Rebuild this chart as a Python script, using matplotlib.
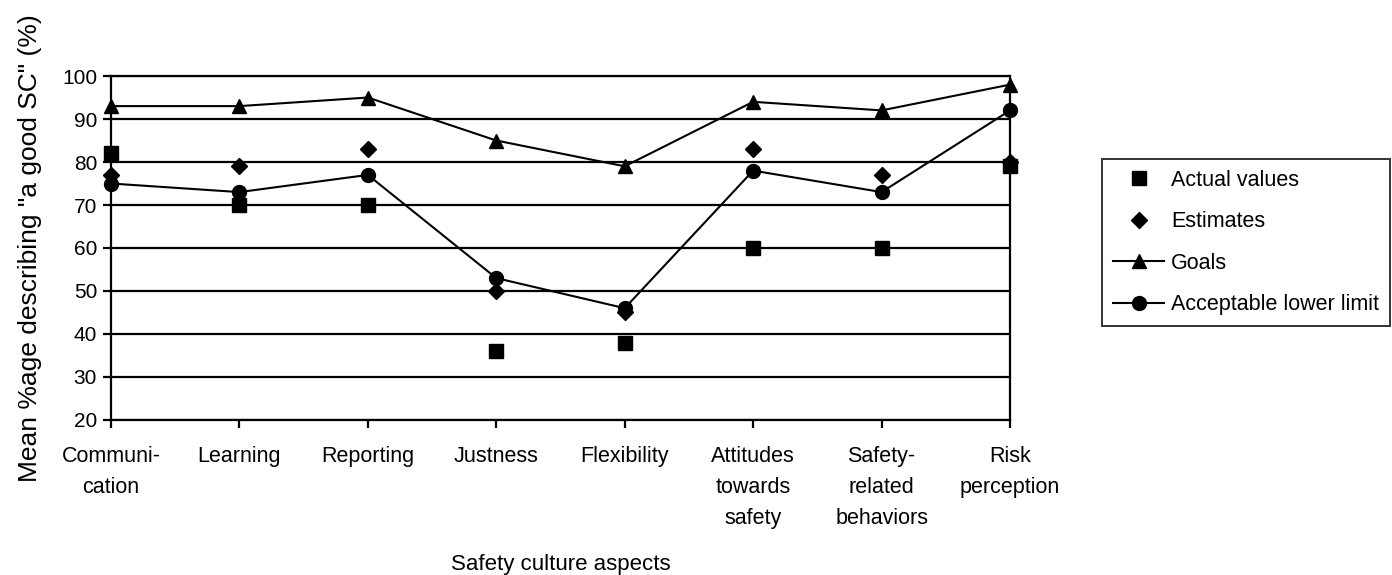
import matplotlib
matplotlib.use('Agg')
import matplotlib.pyplot as plt
from matplotlib.lines import Line2D

plt.rcParams['font.family'] = ['Liberation Sans', 'DejaVu Sans']
plt.rcParams['font.size'] = 15.5

# data
aspects = ['Communi-\ncation', 'Learning', 'Reporting', 'Justness', 'Flexibility',
           'Attitudes\ntowards\nsafety', 'Safety-\nrelated\nbehaviors', 'Risk\nperception']
actual = [82, 70, 70, 36, 38, 60, 60, 79]
estimates = [77, 79, 83, 50, 45, 83, 77, 80]
goals = [93, 93, 95, 85, 79, 94, 92, 98]
lower_limit = [75, 73, 77, 53, 46, 78, 73, 92]

fig = plt.figure(figsize=(13.92, 5.75), dpi=100)
ax = fig.add_axes([0.0797, 0.2696, 0.6459, 0.5982])

x = list(range(len(aspects)))
ax.plot(x, estimates, linestyle='none', marker='D', ms=8, color='black', clip_on=False, zorder=3)
ax.plot(x, actual, linestyle='none', marker='s', ms=10, color='black', clip_on=False, zorder=3)
ax.plot(x, goals, '-', marker='^', ms=10, lw=1.5, color='black', clip_on=False, zorder=4)
ax.plot(x, lower_limit, '-', marker='o', ms=10, lw=1.5, color='black', clip_on=False, zorder=4)

ax.set_xlim(0, len(aspects) - 1)
ax.set_ylim(20, 100)
ax.set_yticks(range(20, 101, 10))
ax.set_yticklabels([str(v) for v in range(20, 101, 10)], fontsize=15)
ax.set_xticks(x)
ax.set_xticklabels(aspects, linespacing=1.6)
ax.yaxis.grid(True, color='black', lw=1.6)
ax.set_axisbelow(True)

for s in ['left', 'bottom', 'right', 'top']:
    ax.spines[s].set_linewidth(1.6)
ax.tick_params(axis='both', direction='out', length=6, width=1.6, colors='black')
ax.tick_params(axis='x', pad=13)
ax.tick_params(axis='y', pad=4)

ax.set_ylabel('Mean %age describing "a good SC" (%)', fontsize=19, labelpad=14)
ax.set_xlabel('Safety culture aspects', fontsize=16)
ax.xaxis.set_label_coords(0.5, -0.39)

handles = [
    Line2D([], [], linestyle='none', marker='s', ms=10, color='black'),
    Line2D([], [], linestyle='none', marker='D', ms=8, color='black'),
    Line2D([], [], linestyle='-', marker='^', ms=10, lw=1.5, color='black'),
    Line2D([], [], linestyle='-', marker='o', ms=10, lw=1.5, color='black'),
]
labels = ['Actual values', 'Estimates', 'Goals', 'Acceptable lower limit']
leg = fig.legend(handles, labels, loc='upper left', bbox_to_anchor=(0.7917, 0.7235),
                 frameon=True, fancybox=False, edgecolor='black', handlelength=2.4,
                 handletextpad=0.3, borderpad=0.5, labelspacing=0.95, borderaxespad=0)
leg.get_frame().set_linewidth(1.4)

fig.savefig('out.png', dpi=100)
